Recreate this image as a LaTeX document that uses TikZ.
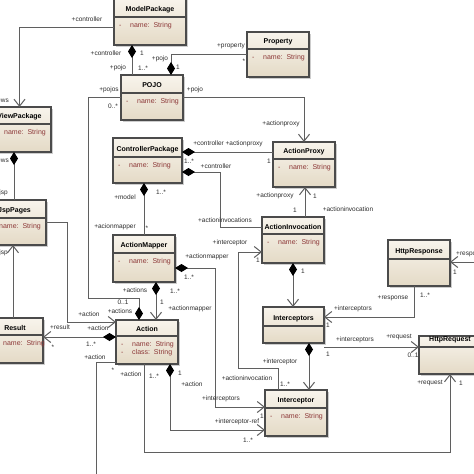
\documentclass[tikz,border=0pt]{standalone}
\usepackage{fontspec}
\setmainfont{Liberation Sans}
\usetikzlibrary{arrows.meta,calc}
\definecolor{boxtop}{RGB}{248,244,236}
\definecolor{boxbot}{RGB}{228,218,198}
\definecolor{boxedge}{RGB}{75,75,75}
\definecolor{linec}{RGB}{95,95,95}
\definecolor{attrc}{RGB}{140,55,55}
\definecolor{labc}{RGB}{45,45,45}
\definecolor{shadc}{RGB}{205,205,205}
\tikzset{
 classbox/.style={draw=boxedge, line width=1.1pt, top color=boxtop, bottom color=boxbot, inner sep=0pt, outer sep=0pt, rectangle},
 titletext/.style={font=\fontsize{7}{8}\selectfont\bfseries, inner sep=0pt, text=black},
 attrtext/.style={font=\fontsize{7}{8}\selectfont, inner sep=0pt, text=attrc, align=left, anchor=north west},
 lab/.style={font=\fontsize{6.5}{7}\selectfont, inner sep=0pt, text=labc},
 conn/.style={draw=linec, line width=1pt, line join=miter},
 comp/.style={conn, {Diamond[length=13pt,width=8pt,color=black]}-},
 nav/.style={conn, -{Straight Barb[length=7pt,width=11pt]}},
 compnav/.style={conn, {Diamond[length=13pt,width=8pt,color=black]}-{Straight Barb[length=7pt,width=11pt]}},
}
\newcommand\umlbox[9]{%
 \fill[shadc] ({#2+2},{#3+2}) rectangle ({#4+2},{#5+2});
 \node[classbox, minimum width={#4-#2}, minimum height={#5-#3}, anchor=north west] (#1) at (#2,#3) {};
 \draw[boxedge, line width=1.1pt] (#1.west |- 0,#6) -- (#1.east |- 0,#6);
 \node[titletext] (#1t) at ({(#2+#4)/2},{#6-7.5}) {#7};
 \node[attrtext] (#1a) at ({#2+16},{#6+4.5}) {#8};
 \node[attrtext] (#1d) at ({#2+5},{#6+4.5}) {#9};
}
\begin{document}
\begin{tikzpicture}[x=1pt,y=-1pt]
\useasboundingbox (0,0) rectangle (474,474);
\clip (0,0) rectangle (474,474);
\fill[white] (0,0) rectangle (474,474);

\umlbox{mp}{114}{-2}{186}{45}{17}{ModelPackage}{\strut name:\ \ String}{\strut -}
\umlbox{pojo}{121}{75}{183}{120}{93}{POJO}{\strut name:\ \ String}{\strut -}
\umlbox{prop}{247}{32}{309}{77}{49}{Property}{\strut name:\ \ String}{\strut -}
\umlbox{vp}{-12}{107}{51}{152}{124}{ViewPackage}{\strut name:\ \ String}{\strut -}
\umlbox{jsp}{-17}{200}{46}{245}{218}{JspPages}{\strut name:\ \ String}{\strut -}
\umlbox{res}{-13}{318}{43}{363}{335}{Result}{\strut name:\ \ String}{\strut -}
\umlbox{act}{116}{320}{178}{364}{336}{Action}{\strut name:\ \ String\\\strut class:\ \ String}{\strut -\\\strut -}
\umlbox{cp}{113}{138}{182}{183}{157}{ControllerPackage}{\strut name:\ \ String}{\strut -}
\umlbox{ap}{273}{142}{335}{187}{159}{ActionProxy}{\strut name:\ \ String}{\strut -}
\umlbox{ai}{262}{217}{324}{263}{234}{ActionInvocation}{\strut name:\ \ String}{\strut -}
\umlbox{am}{113}{235}{175}{282}{253}{ActionMapper}{\strut name:\ \ String}{\strut -}
\umlbox{hresp}{388}{240}{450}{286}{259}{HttpResponse}{}{}
\umlbox{itcs}{263}{307}{324}{343}{326}{Interceptors}{}{}
\umlbox{hreq}{419}{336}{481}{374}{347}{HttpRequest}{}{}
\umlbox{itc}{265}{390}{327}{436}{408}{Interceptor}{\strut name:\ \ String}{\strut -}

\coordinate (offb) at (96,480);
\coordinate (offr) at (490,262);

\draw[nav] (mp.west |- 0,27) -| (vp.north);
\draw[comp] (mp.south -| 132,0) -- (pojo.north -| 132,0);
\draw[comp] (pojo.north -| 171,0) |- (prop.west |- 0,54);
\draw[comp] (act.north -| 139,0) -- (139,298) -- (88,298) |- (pojo.west |- 0,97);
\draw[nav] (pojo.east |- 0,97) -| (ap.north);
\draw[comp] (cp.east |- 0,152) -- (ap.west |- 0,152);
\draw[comp] (cp.east |- 0,172) -| (220,227) -- (ai.west |- 0,227);
\draw[comp] (cp.south -| 144,0) -- (am.north -| 144,0);
\draw[nav] (ai.north -| 305,0) -- (ap.south -| 305,0);
\draw[compnav] (ai.south) -- (ai.south |- itcs.north);
\draw[compnav] (am.south -| 156,0) -- (act.north -| 156,0);
\draw[compnav] (am.east |- 0,268) -| (215,407) -- (itc.west |- 0,407);
\draw[nav] (jsp.east |- 0,222) -| (67,322) -- (act.west |- 0,322);
\draw[nav] (res.north -| 13,0) -- (jsp.south -| 13,0);
\draw[comp] (vp.south -| 14,0) -- (jsp.north -| 14,0);
\draw[compnav] (act.west |- 0,337) -- (res.east |- 0,337);
\draw[conn] (act.west |- 0,362) -| (offb);
\draw[nav] (act.south -| 144,0) |- (hreq.south |- 0,452) -- (hreq.south);
\draw[compnav] (act.south -| 170,0) |- (itc.west |- 0,430);
\draw[nav] (itc.north -| 278,0) -- (278,368) -| (238,252) -- (ai.west |- 0,252);
\draw[compnav] (itcs.south -| 309,0) -- (itc.north -| 309,0);
\draw[nav] (itcs.east |- 0,347) -- (hreq.west |- 0,347);
\draw[nav] (hresp.south -| 414,0) |- (itcs.east |- 0,317);
\draw[nav] (offr) -- (hresp.east |- 0,262);

\node[lab] (l1) at (87,19) {+controller};
\node[lab, anchor=east] (l2) at (9,100) {+views};
\node[lab] (l3) at (106,53) {+controller};
\node[lab] (l4) at (142,53) {1};
\node[lab] (l5) at (118,68) {+pojo};
\node[lab] (l6) at (143,68) {1..*};
\node[lab] (l7) at (160,59) {+pojo};
\node[lab] (l8) at (178,67) {1};
\node[lab] (l9) at (231,46) {+property};
\node[lab] (l10) at (244,61) {*};
\node[lab] (l11) at (109,90) {+pojos};
\node[lab] (l12) at (113,106) {0..*};
\node[lab] (l13) at (195,90) {+pojo};
\node[lab] (l14) at (281,124) {+actionproxy};
\node[lab] (l15) at (228,144) {+controller +actionproxy};
\node[lab] (l16) at (189,161) {1..*};
\node[lab] (l17) at (269,161) {1};
\node[lab] (l18) at (216,166) {+controller};
\node[lab] (l19) at (225,220) {+actioninvocations};
\node[lab] (l20) at (125,197) {+model};
\node[lab] (l21) at (161,192) {1..*};
\node[lab] (l22) at (115,227) {+acionmapper};
\node[lab] (l23) at (147,228) {*};
\node[lab] (l24) at (275,196) {+actionproxy};
\node[lab] (l25) at (315,196) {1};
\node[lab] (l26) at (295,210) {1};
\node[lab] (l27) at (348,209) {+actioninvocation};
\node[lab] (l28) at (303,271) {1};
\node[lab] (l29) at (230,243) {+interceptor};
\node[lab] (l30) at (258,260) {1};
\node[lab] (l31) at (207,257) {+actionmapper};
\node[lab] (l32) at (189,277) {1..*};
\node[lab] (l33) at (135,290) {+actions};
\node[lab] (l34) at (175,291) {1..*};
\node[lab] (l35) at (162,302) {1};
\node[lab] (l36) at (190,309) {+actionmapper};
\node[lab] (l37) at (123,302) {0..1};
\node[lab] (l38) at (120,311) {+actions};
\node[lab] (l39) at (89,314) {+action};
\node[lab] (l40) at (60,327) {+result};
\node[lab] (l41) at (98,328) {+action};
\node[lab] (l42) at (53,347) {*};
\node[lab] (l43) at (91,344) {1..*};
\node[lab] (l44) at (95,357) {+action};
\node[lab] (l45) at (113,370) {*};
\node[lab] (l46) at (131,374) {+action};
\node[lab] (l47) at (154,376) {1..*};
\node[lab] (l48) at (180,373) {1};
\node[lab] (l49) at (192,384) {+action};
\node[lab] (l50) at (221,399) {+interceptors};
\node[lab] (l51) at (262,416) {1};
\node[lab] (l52) at (237,422) {+interceptor-ref};
\node[lab] (l53) at (248,440) {1..*};
\node[lab] (l54) at (280,362) {+interceptor};
\node[lab] (l55) at (247,378) {+actioninvocation};
\node[lab] (l56) at (285,384) {1..*};
\node[lab] (l57) at (328,354) {1};
\node[lab] (l58) at (355,340) {+interceptors};
\node[lab] (l59) at (399,337) {+request};
\node[lab] (l60) at (413,355) {0..1};
\node[lab] (l61) at (353,309) {+interceptors};
\node[lab] (l62) at (328,325) {1};
\node[lab] (l63) at (393,298) {+response};
\node[lab] (l64) at (425,295) {1..*};
\node[lab, anchor=west] (l65) at (456,254) {+response};
\node[lab] (l66) at (455,272) {1};
\node[lab] (l67) at (430,383) {+request};
\node[lab] (l68) at (461,383) {1};
\node[lab, anchor=east] (l69) at (8,253) {+jsp};
\node[lab, anchor=east] (l70) at (9,160) {+views};
\node[lab, anchor=east] (l71) at (8,193) {+jsp};
\end{tikzpicture}
\end{document}
